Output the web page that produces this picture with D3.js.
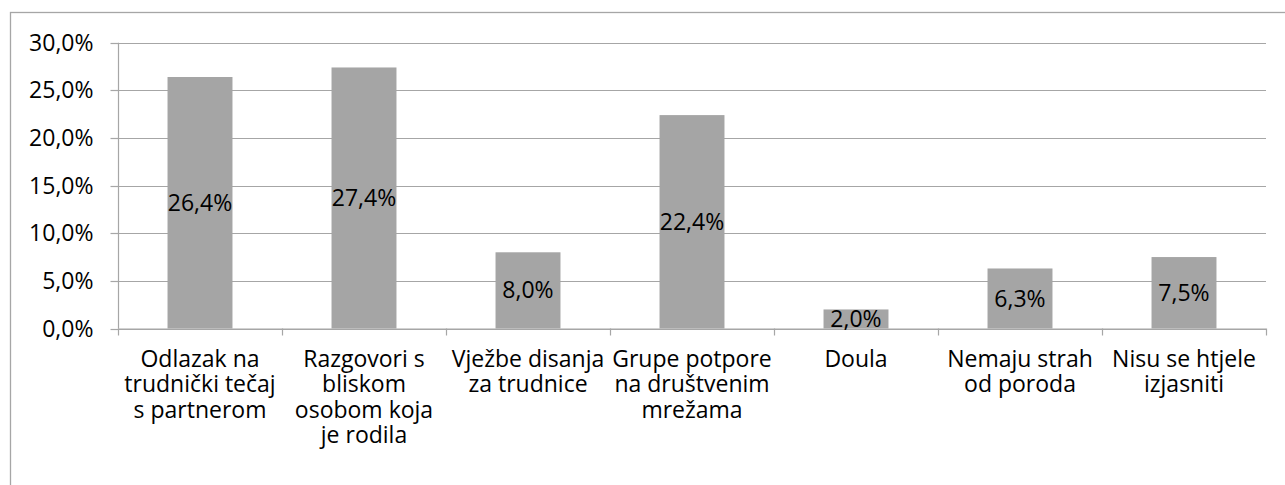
<!DOCTYPE html>
<html><head><meta charset="utf-8">
<script src="https://cdn.jsdelivr.net/npm/d3@7"></script>
<style>body{margin:0;background:#fff}svg{display:block}text{font-family:"Open Sans",sans-serif}</style>
</head><body><div id="c"></div>
<script>
const categories = ["Odlazak na\ntrudnički tečaj\ns partnerom","Razgovori s\nbliskom\nosobom koja\nje rodila","Vježbe disanja\nza trudnice","Grupe potpore\nna društvenim\nmrežama","Doula","Nemaju strah\nod poroda","Nisu se htjele\nizjasniti"];
const values = [26.4, 27.4, 8.0, 22.4, 2.0, 6.3, 7.5];
const yTicks = [0,5,10,15,20,25,30];
const fmt = v => v.toFixed(1).replace(".", ",") + "%";

const W = 1285, H = 485, FS = 23;
const svg = d3.select("#c").append("svg").attr("width", W).attr("height", H);
svg.append("rect").attr("x",10.5).attr("y",12.5).attr("width",1300).attr("height",500)
  .attr("fill","none").attr("stroke","#a6a6a6").attr("stroke-width",1.3);

const pLeft = 118, pRight = 1266, pTop = 42.7, pBottom = 328.5;
const x = d3.scaleBand().domain(categories).range([pLeft, pRight]).paddingInner(0.604).paddingOuter(0.302);
const y = d3.scaleLinear().domain([0,30]).range([pBottom, pTop]);

// gridlines
svg.append("g").selectAll("line").data(yTicks).join("line")
  .attr("x1", pLeft).attr("x2", pRight)
  .attr("y1", d => Math.round(y(d))+0.5).attr("y2", d => Math.round(y(d))+0.5)
  .attr("stroke","#a6a6a6").attr("stroke-width",1.2);

// y axis
const ya = svg.append("g").attr("transform",`translate(${pLeft+0.5},0)`)
  .call(d3.axisLeft(y).tickValues(yTicks).tickFormat(fmt).tickSize(8).tickPadding(17));
ya.select(".domain").attr("stroke","#a6a6a6").attr("stroke-width",1.2).attr("d",`M0,${pTop}V${pBottom}`);
ya.selectAll(".tick line").attr("stroke","#a6a6a6").attr("stroke-width",1.2);
ya.selectAll(".tick text").attr("font-size",FS).attr("fill","#000").attr("font-family","Open Sans");
ya.selectAll(".tick").attr("transform", d => `translate(0,${Math.round(y(d))+0.5})`);

// bars
svg.append("g").selectAll("rect").data(values).join("rect")
  .attr("x",(d,i)=>x(categories[i])).attr("width",x.bandwidth())
  .attr("y",d=>y(d)).attr("height",d=>pBottom-y(d)).attr("fill","#a5a5a5");

// x axis line and ticks
const step = x.step();
const bounds = d3.range(categories.length+1).map(i => pLeft + i*step);
svg.append("line").attr("x1",pLeft).attr("x2",pRight).attr("y1",pBottom+0.5).attr("y2",pBottom+0.5)
  .attr("stroke","#a6a6a6").attr("stroke-width",1.2);
svg.append("g").selectAll("line").data(bounds).join("line")
  .attr("x1",d=>Math.round(d)+0.5).attr("x2",d=>Math.round(d)+0.5)
  .attr("y1",pBottom).attr("y2",pBottom+7).attr("stroke","#a6a6a6").attr("stroke-width",1.2);

// value labels
svg.append("g").selectAll("text").data(values).join("text")
  .attr("x",(d,i)=>x(categories[i])+x.bandwidth()/2)
  .attr("y",d=>(y(d)+pBottom)/2).attr("dy","0.35em")
  .attr("text-anchor","middle").attr("font-size",FS).attr("fill","#000").text(fmt);

// category labels
const cl = svg.append("g").selectAll("text").data(categories).join("text")
  .attr("x",d=>x(d)+x.bandwidth()/2).attr("y",367)
  .attr("text-anchor","middle").attr("font-size",FS).attr("fill","#000");
cl.each(function(d){
  const t = d3.select(this);
  d.split("\n").forEach((line,i)=>{
    t.append("tspan").attr("x",t.attr("x")).attr("dy", i===0?0:25.3).text(line);
  });
});
</script></body></html>
